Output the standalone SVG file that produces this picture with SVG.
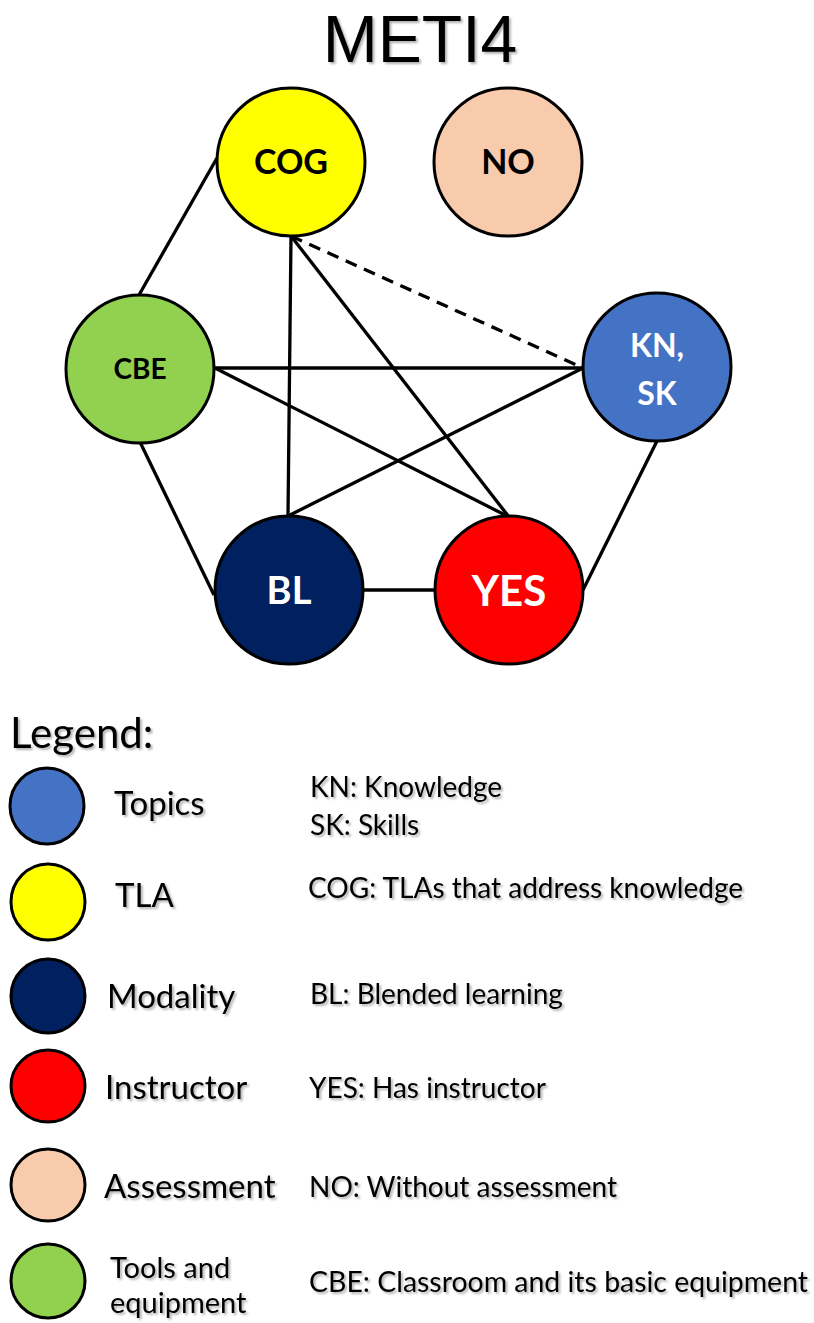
<svg xmlns="http://www.w3.org/2000/svg" width="814" height="1323" viewBox="0 0 814 1323">
<defs>
<filter id="sh" x="-10%" y="-20%" width="130%" height="150%">
<feDropShadow dx="2" dy="2" stdDeviation="1.2" flood-color="#000" flood-opacity="0.3"/>
</filter>
</defs>
<style>
.n{stroke:#000;stroke-width:3}
.c line{stroke:#000;stroke-width:3.3}
.nl{font-family:Lato,"Liberation Sans",sans-serif;font-weight:bold;text-anchor:middle}
.t{font-family:Lato,"Liberation Sans",sans-serif;fill:#000;filter:url(#sh)}
.lg{stroke:#000;stroke-width:3}
</style>
<rect width="814" height="1323" fill="#fff"/>
<text class="t" x="420" y="62" font-size="66" text-anchor="middle" style="font-family:'Liberation Sans',sans-serif">METI4</text>
<g class="c">
<line x1="217" y1="158" x2="139" y2="295"/>
<line x1="140" y1="442" x2="214" y2="595"/>
<line x1="215" y1="368" x2="583" y2="368"/>
<line x1="215" y1="368" x2="509" y2="517"/>
<line x1="291" y1="236" x2="288" y2="516"/>
<line x1="291" y1="236" x2="509" y2="517"/>
<line x1="291" y1="236" x2="583" y2="368" stroke-dasharray="12,8"/>
<line x1="583" y1="368" x2="288" y2="516"/>
<line x1="363" y1="590" x2="435" y2="590"/>
<line x1="583" y1="590" x2="657" y2="441"/>
</g>
<g id="COG"><circle class="n" cx="291" cy="162" r="74" fill="#ffff00"/><text class="nl" x="291" y="174" font-size="34" fill="#000">COG</text></g>
<g id="NO"><circle class="n" cx="508" cy="162" r="74" fill="#f8cbad"/><text class="nl" x="508" y="174" font-size="34" fill="#000">NO</text></g>
<g id="CBE"><circle class="n" cx="140" cy="369" r="74" fill="#92d050"/><text class="nl" x="140" y="379" font-size="28" fill="#000">CBE</text></g>
<g id="KNSK"><circle class="n" cx="657" cy="367" r="74" fill="#4472c4"/><text class="nl" x="657" y="357" font-size="32" fill="#fff">KN,</text><text class="nl" x="657" y="405" font-size="32" fill="#fff">SK</text></g>
<g id="BL"><circle class="n" cx="289" cy="590" r="74" fill="#002060"/><text class="nl" x="289" y="604" font-size="38" fill="#fff">BL</text></g>
<g id="YES"><circle class="n" cx="509" cy="590" r="74" fill="#ff0000"/><text class="nl" x="509" y="606" font-size="42" fill="#fff">YES</text></g>
<g id="legend">
<text class="t" x="10" y="748" font-size="42">Legend:</text>
<ellipse class="lg" cx="47" cy="806" rx="37" ry="38" fill="#4472c4"/>
<ellipse class="lg" cx="48" cy="902" rx="37" ry="38" fill="#ffff00"/>
<ellipse class="lg" cx="48" cy="996" rx="37" ry="37" fill="#002060"/>
<ellipse class="lg" cx="48" cy="1086" rx="37" ry="36" fill="#ff0000"/>
<ellipse class="lg" cx="48" cy="1185" rx="37" ry="36" fill="#f8cbad"/>
<ellipse class="lg" cx="48" cy="1281" rx="37" ry="37" fill="#92d050"/>
<text class="t" x="114" y="815" font-size="33">Topics</text>
<text class="t" x="115" y="907" font-size="33">TLA</text>
<text class="t" x="107" y="1008" font-size="33">Modality</text>
<text class="t" x="105" y="1099" font-size="33">Instructor</text>
<text class="t" x="104" y="1198" font-size="33">Assessment</text>
<text class="t" x="110" y="1278" font-size="29">Tools and</text>
<text class="t" x="110" y="1313" font-size="29">equipment</text>
<text class="t" x="310" y="797" font-size="28">KN: Knowledge</text>
<text class="t" x="310" y="835" font-size="28">SK: Skills</text>
<text class="t" x="308" y="898" font-size="28">COG: TLAs that address knowledge</text>
<text class="t" x="310" y="1004" font-size="28">BL: Blended learning</text>
<text class="t" x="309" y="1098" font-size="28">YES: Has instructor</text>
<text class="t" x="309" y="1197" font-size="28">NO: Without assessment</text>
<text class="t" x="309" y="1292" font-size="28" textLength="499" lengthAdjust="spacingAndGlyphs">CBE: Classroom and its basic equipment</text>
</g>
</svg>
